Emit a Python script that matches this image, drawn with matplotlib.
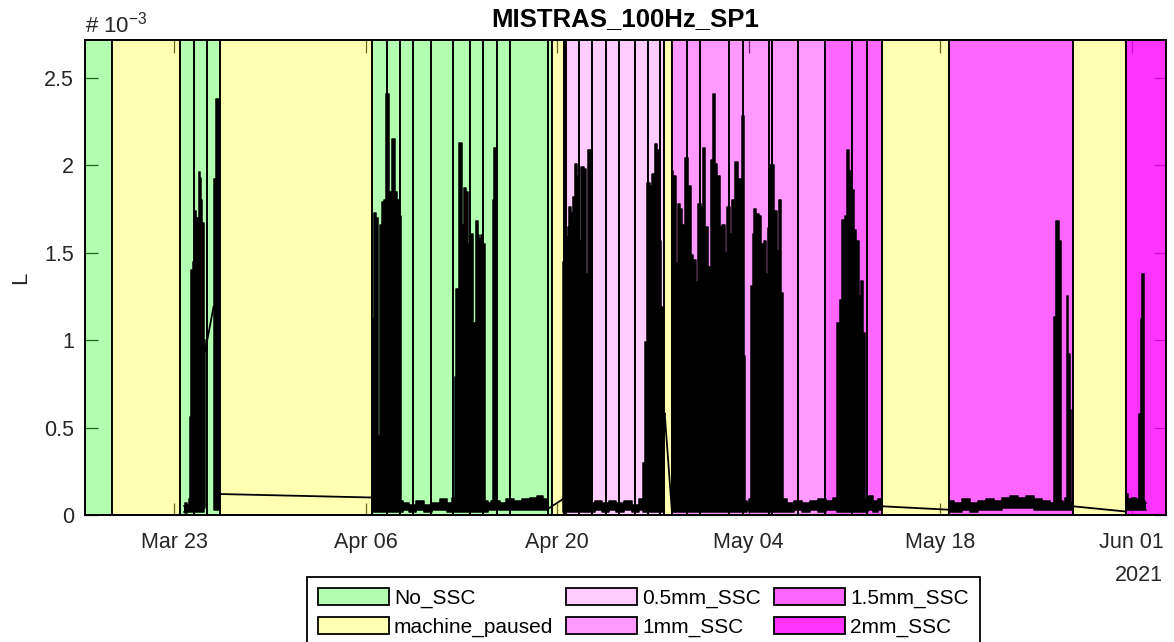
import numpy as np
import matplotlib
matplotlib.use("Agg")
import matplotlib.pyplot as plt
import matplotlib.dates as mdates
from matplotlib.patches import Patch

plt.rcParams["font.family"] = ["Liberation Sans", "DejaVu Sans"]

# Time origin; every time value below is in days since this instant
T0 = np.datetime64("2021-03-16T00:00")

# Test-condition periods: consecutive edges and the condition of each period
period_edges = [0.5, 2.49, 7.46, 8.48, 9.43, 10.33, 21.49, 22.56, 23.51, 24.46,
                25.82, 27.39, 28.65, 29.62, 30.60, 31.55, 34.37, 34.62, 35.47,
                35.67, 36.62, 37.54, 38.54, 39.52, 40.71, 41.64, 42.53, 42.83,
                43.39, 44.49, 45.46, 47.55, 48.62, 50.52, 50.70, 52.60, 54.59,
                56.54, 57.64, 58.76, 63.63, 72.73, 76.56, 79.5]
period_state = (["No_SSC", "machine_paused"] + ["No_SSC"] * 3 + ["machine_paused"]
                + ["No_SSC"] * 11 + ["machine_paused"] + ["0.5mm_SSC"] * 9
                + ["machine_paused"] + ["1mm_SSC"] * 8 + ["1.5mm_SSC"] * 3
                + ["machine_paused", "1.5mm_SSC", "machine_paused", "2mm_SSC"])

categories = ["No_SSC", "machine_paused", "0.5mm_SSC", "1mm_SSC", "1.5mm_SSC", "2mm_SSC"]
category_color = {
    "No_SSC": (0.0, 1.0, 0.0, 0.3),
    "machine_paused": (1.0, 1.0, 0.0, 0.3),
    "0.5mm_SSC": (1.0, 0.0, 1.0, 0.2),
    "1mm_SSC": (1.0, 0.0, 1.0, 0.4),
    "1.5mm_SSC": (1.0, 0.0, 1.0, 0.6),
    "2mm_SSC": (1.0, 0.0, 1.0, 0.8),
}

# Signal L (units of 1e-3): upper and lower envelope of the 100 Hz feature.
# A sample whose top equals its bottom is a single value at the edge of a
# recording gap; two such samples in a row are joined by a straight line.
t_days = [7.716, 7.899, 8.045, 8.191, 8.228, 8.301, 8.447, 8.556, 8.666, 8.739,
          8.812, 8.871, 8.958, 9.031, 9.141, 9.251, 9.287, 9.894, 9.915, 10.018,
          10.142, 10.237, 10.296, 10.33,
          21.512, 21.548, 21.709, 21.892, 22.001, 22.074, 22.184, 22.294, 22.440,
          22.564, 22.695, 22.769, 22.878, 22.951, 23.119, 23.207, 23.390, 23.536,
          23.587, 23.901, 24.413, 24.997, 25.582, 26.166, 26.751, 27.189, 27.481,
          27.554, 27.737, 27.883, 27.993, 28.088, 28.234, 28.410, 28.526, 28.650,
          28.818, 28.965, 29.140, 29.257, 29.381, 29.506, 29.674, 29.798, 30.039,
          30.295, 30.353, 30.441, 30.587, 30.623, 30.989, 31.574, 32.158, 32.743,
          33.327, 33.766, 34.204, 34.423,
          35.410, 35.432, 35.484, 35.716, 35.833, 35.957, 36.082, 36.199, 36.374,
          36.520, 36.688, 36.812, 37.054, 37.178, 37.295, 37.492, 37.587, 38.004,
          38.515, 39.027, 39.612, 40.196, 40.781, 41.219, 41.314, 41.490, 41.680,
          41.877, 42.045, 42.243, 42.367, 42.535, 42.703, 42.813, 42.864,
          43.374, 43.396, 43.579, 43.754, 43.871, 44.068, 44.236, 44.485, 44.653,
          44.850, 45.040, 45.216, 45.384, 45.581, 45.713, 45.946, 46.114, 46.312,
          46.429, 46.604, 46.794, 46.969, 47.159, 47.335, 47.525, 47.700, 47.890,
          48.138, 48.306, 48.504, 48.584, 48.708, 48.781, 48.964, 49.110, 49.234,
          49.351, 49.475, 49.643, 49.841, 50.009, 50.206, 50.330, 50.447, 50.608,
          50.754, 50.937, 51.178, 51.302, 51.427, 51.544, 52.033, 52.618, 53.202,
          53.787, 54.371, 54.956, 55.394, 55.562, 55.760, 55.928, 56.103, 56.250,
          56.418, 56.586, 56.783, 56.980, 57.149, 57.317, 57.463, 57.587, 57.879,
          58.245, 58.610, 58.720,
          63.688, 63.761, 64.309, 64.894, 65.478, 66.063, 66.647, 67.232, 67.816,
          68.401, 68.985, 69.570, 70.154, 70.739, 71.250, 71.396, 71.594, 71.762,
          71.886, 72.054, 72.237, 72.325, 72.420, 72.515, 72.617, 72.676,
          76.548, 76.621, 76.877, 77.169, 77.484, 77.608, 77.681, 77.849, 77.937,
          78.010]
l_top = [0.05, 0.07, 0.06, 0.09, 0.56, 1.40, 1.45, 1.74, 1.62, 1.70,
         1.50, 1.96, 1.93, 1.80, 1.67, 1.00, 0.94, 1.19, 1.92, 1.60,
         2.38, 2.38, 1.20, 0.12,
         0.10, 1.12, 1.73, 1.70, 0.45, 1.66, 1.20, 1.79, 1.80,
         2.41, 2.41, 1.80, 1.85, 2.15, 2.15, 1.85, 1.80, 1.71,
         0.08, 0.07, 0.06, 0.08, 0.06, 0.07, 0.09, 0.07, 0.10,
         0.79, 1.29, 2.13, 2.13, 1.66, 1.87, 1.85, 1.38, 1.55,
         1.61, 1.10, 1.68, 1.60, 1.58, 1.60, 1.55, 0.08, 0.07,
         0.08, 1.80, 2.10, 2.10, 0.08, 0.07, 0.09, 0.08, 0.09,
         0.10, 0.11, 0.09, 0.04,
         0.09, 0.09, 1.45, 1.59, 1.65, 1.76, 1.73, 1.82, 2.01,
         1.94, 1.57, 1.99, 1.98, 1.38, 2.09, 2.09, 0.07, 0.08,
         0.07, 0.08, 0.07, 0.08, 0.06, 0.09, 0.30, 0.99, 1.90,
         1.88, 1.95, 2.12, 2.09, 1.57, 1.19, 0.56, 0.58,
         0.04, 1.97, 1.94, 1.44, 1.78, 1.75, 1.66, 2.04, 1.88,
         1.49, 1.46, 1.33, 1.78, 1.76, 2.10, 1.65, 1.42, 2.03,
         2.41, 2.01, 1.94, 1.65, 1.66, 1.50, 1.76, 1.61, 1.80,
         2.02, 1.92, 1.92, 2.28, 0.91, 0.08, 0.07, 0.09, 1.31,
         1.61, 1.75, 1.72, 1.71, 1.55, 1.57, 1.38, 1.64, 2.00,
         2.00, 1.74, 1.51, 1.80, 1.27, 0.09, 0.07, 0.08, 0.07,
         0.08, 0.09, 0.08, 0.10, 1.10, 1.23, 1.69, 1.71, 2.09,
         1.97, 1.86, 1.63, 1.57, 1.25, 1.34, 1.04, 0.09, 0.11,
         0.08, 0.09, 0.05,
         0.03, 0.08, 0.07, 0.09, 0.07, 0.08, 0.09, 0.08, 0.10,
         0.11, 0.10, 0.11, 0.09, 0.08, 0.07, 1.13, 1.68, 1.57,
         0.08, 0.07, 0.10, 1.25, 0.92, 0.60, 0.07, 0.05,
         0.02, 0.12, 0.09, 0.10, 0.09, 0.58, 1.12, 1.38, 0.08,
         0.07]
l_bot = [0.02, 0.01, 0.02, 0.02, 0.02, 0.02, 0.02, 0.02, 0.02, 0.02,
         0.02, 0.02, 0.02, 0.02, 0.02, 0.04, 0.94, 1.19, 0.03, 0.03,
         0.03, 0.03, 0.05, 0.12,
         0.10, 0.02, 0.02, 0.02, 0.02, 0.02, 0.02, 0.02, 0.02,
         0.02, 0.02, 0.02, 0.02, 0.02, 0.02, 0.02, 0.02, 0.02,
         0.02, 0.03, 0.02, 0.03, 0.02, 0.03, 0.03, 0.02, 0.02,
         0.02, 0.02, 0.02, 0.02, 0.02, 0.02, 0.02, 0.02, 0.02,
         0.02, 0.02, 0.02, 0.02, 0.02, 0.02, 0.02, 0.02, 0.03,
         0.03, 0.03, 0.03, 0.03, 0.03, 0.03, 0.03, 0.03, 0.03,
         0.03, 0.03, 0.03, 0.04,
         0.09, 0.02, 0.02, 0.02, 0.02, 0.02, 0.02, 0.02, 0.02,
         0.02, 0.02, 0.02, 0.02, 0.02, 0.02, 0.02, 0.02, 0.03,
         0.02, 0.03, 0.02, 0.03, 0.02, 0.03, 0.02, 0.02, 0.02,
         0.02, 0.02, 0.02, 0.02, 0.02, 0.02, 0.02, 0.58,
         0.04, 0.02, 0.02, 0.02, 0.02, 0.02, 0.02, 0.02, 0.02,
         0.02, 0.02, 0.02, 0.02, 0.02, 0.02, 0.02, 0.02, 0.02,
         0.02, 0.02, 0.02, 0.02, 0.02, 0.02, 0.02, 0.02, 0.02,
         0.02, 0.02, 0.02, 0.02, 0.02, 0.02, 0.03, 0.02, 0.02,
         0.02, 0.02, 0.02, 0.02, 0.02, 0.02, 0.02, 0.02, 0.02,
         0.02, 0.02, 0.02, 0.02, 0.02, 0.02, 0.02, 0.03, 0.02,
         0.03, 0.02, 0.03, 0.03, 0.02, 0.02, 0.02, 0.02, 0.02,
         0.02, 0.02, 0.02, 0.02, 0.02, 0.02, 0.02, 0.02, 0.03,
         0.02, 0.03, 0.05,
         0.03, 0.02, 0.02, 0.03, 0.02, 0.03, 0.03, 0.03, 0.04,
         0.04, 0.04, 0.04, 0.03, 0.03, 0.03, 0.03, 0.03, 0.03,
         0.03, 0.03, 0.03, 0.03, 0.03, 0.03, 0.03, 0.05,
         0.02, 0.03, 0.03, 0.03, 0.03, 0.03, 0.03, 0.03, 0.03,
         0.03]

tick_dates = ["2021-03-23", "2021-04-06", "2021-04-20", "2021-05-04",
              "2021-05-18", "2021-06-01"]
y_ticks = [0, 0.5, 1, 1.5, 2, 2.5]
y_tick_labels = ["0", "0.5", "1", "1.5", "2", "2.5"]


def to_time(days):
    secs = np.round(np.asarray(days, dtype=float) * 86400).astype(np.int64)
    return T0 + secs.astype("timedelta64[s]")


TEXT = "#262626"
fig = plt.figure(figsize=(11.74, 6.42), dpi=100)
ax = fig.add_axes([85 / 1174, 1 - 515 / 642, 1081 / 1174, 475 / 642])
ax.set_axisbelow(True)

edges = to_time(period_edges)
for i, state in enumerate(period_state):
    ax.axvspan(edges[i], edges[i + 1], facecolor=category_color[state],
               edgecolor="black", linewidth=1.3, zorder=1)

# Dense recordings are drawn as stepped envelopes; recording gaps as straight joins
times = to_time(t_days)
top = np.asarray(l_top)
bot = np.asarray(l_bot)
single = top == bot
gap_after = [i for i in range(len(top) - 1) if single[i] and single[i + 1]]
run_starts = [0] + [i + 1 for i in gap_after]
run_ends = [i + 1 for i in gap_after] + [len(top)]
for s, e in zip(run_starts, run_ends):
    ax.fill_between(times[s:e], bot[s:e], top[s:e], step="mid",
                    facecolor="black", linewidth=0, zorder=3)
    ax.plot(times[s:e], top[s:e], drawstyle="steps-mid", color="black",
            linewidth=1.1, zorder=3)
    ax.plot(times[s:e], bot[s:e], drawstyle="steps-mid", color="black",
            linewidth=1.1, zorder=3)
for i in gap_after:
    ax.plot(times[i:i + 2], top[i:i + 2], color="black", linewidth=1.3, zorder=3)

ax.set_xlim(to_time(period_edges[0]), to_time(period_edges[-1]))
ax.set_ylim(0, 2.717)
ax.set_xticks([np.datetime64(d) for d in tick_dates])
ax.xaxis.set_major_formatter(mdates.DateFormatter("%b %d"))
ax.set_yticks(y_ticks)
ax.set_yticklabels(y_tick_labels)
ax.tick_params(direction="in", length=9, width=0.9, top=True, right=True,
               labelsize=15.5, labelcolor=TEXT, color=TEXT)
ax.tick_params(axis="x", pad=12)
ax.tick_params(axis="y", pad=8)
for sp in ax.spines.values():
    sp.set_linewidth(1.4)
    sp.set_color("black")
    sp.set_zorder(4)

ax.set_title("MISTRAS_100Hz_SP1", fontsize=18.5, fontweight="bold", pad=10)
ax.set_ylabel("L", fontsize=16, color=TEXT, labelpad=9)
ax.text(0, 1.006, r"# 10$^{\mathregular{-3}}$", transform=ax.transAxes,
        ha="left", va="bottom", fontsize=16, color=TEXT)
ax.text(to_time(77.5), -0.128, "2021", transform=ax.get_xaxis_transform(),
        ha="center", va="center", fontsize=15.5, color=TEXT)

handles = [Patch(facecolor=category_color[c], edgecolor="black", linewidth=1.3,
                 label=c) for c in categories]
leg = fig.legend(handles=handles, ncol=3, loc="upper center",
                 bbox_to_anchor=(0.548, 1 - 577 / 642), fontsize=15,
                 handlelength=3.4, handleheight=0.85, handletextpad=0.25,
                 columnspacing=0.62, labelspacing=0.42, borderpad=0.55,
                 borderaxespad=0, frameon=True, fancybox=False,
                 edgecolor="black", framealpha=1)
leg.get_frame().set_linewidth(1.3)
for txt in leg.get_texts():
    txt.set_color("black")

fig.savefig("out.png", dpi=100)
